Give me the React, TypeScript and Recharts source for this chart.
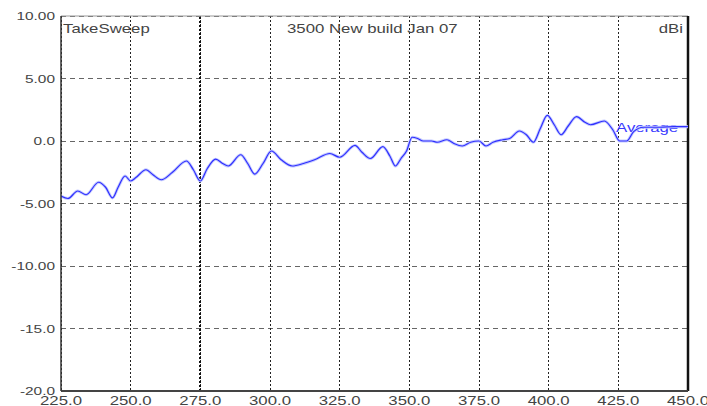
import React from 'react';
import {
  ComposedChart,
  Line,
  XAxis,
  YAxis,
  CartesianGrid,
  ReferenceLine,
  Customized,
} from 'recharts';

// Frequency (MHz) sweep points
const freq = [
  225, 227.5, 231, 234, 238.5, 241, 243.5, 245.5, 248, 250, 252, 255.5, 258, 261, 265,
  270, 272.5, 275, 277.5, 280.5, 283, 285, 289.5, 292, 294.5, 297.5, 300.5, 304, 308,
  312, 316, 321.5, 325, 330.5, 333, 336, 340.5, 343, 345, 347, 349, 351, 353, 355, 358,
  360, 363.5, 366, 369, 372, 375, 377.5, 380, 383.5, 386, 389.5, 392, 394.5, 397, 399.5,
  402, 404.5, 407, 410, 413, 415, 420, 423, 425.5, 428, 430.5, 434, 440, 445, 450,
];
// Gain (dBi) for each sweep point
const gain = [
  -4.4, -4.6, -4.0, -4.3, -3.3, -3.7, -4.55, -3.7, -2.8, -3.2, -2.9, -2.3, -2.7, -3.1, -2.5,
  -1.6, -2.3, -3.2, -2.2, -1.45, -1.8, -2.0, -1.1, -1.8, -2.65, -1.8, -0.8, -1.5, -2.0,
  -1.8, -1.5, -1.0, -1.3, -0.35, -0.9, -1.4, -0.45, -1.2, -2.0, -1.4, -0.8, 0.3, 0.2, 0.0, 0.0,
  -0.1, 0.1, -0.2, -0.4, -0.1, 0.0, -0.4, -0.1, 0.1, 0.2, 0.8, 0.5, -0.1, 1.0, 2.05,
  1.3, 0.5, 1.2, 1.95, 1.5, 1.3, 1.6, 0.9, 0.0, 0.0, 0.75, 1.1, 1.1, 1.15, 1.15,
];

const xTicks = [225, 250, 275, 300, 325, 350, 375, 400, 425, 450];
const xTickLabels = ['225.0', '250.0', '275.0', '300.0', '325.0', '350.0', '375.0', '400.0', '425.0', '450.0'];
const yTicks = [-20, -15, -10, -5, 0, 5, 10];
const yTickLabels = ['-20.0', '-15.0', '-10.00', '-5.00', '0.0', '5.00', '10.00'];

const titleLeft = 'TakeSweep';
const titleCenter = '3500 New build Jan 07';
const unitLabel = 'dBi';
const seriesLabel = 'Average';

const data = freq.map((f, i) => ({ f, g: gain[i] }));

const FONT = '"Liberation Sans", Arial, sans-serif';
const SX = 1.4;

const XTick = (props: any) => {
  const { x, y, payload } = props;
  const idx = xTicks.indexOf(payload.value);
  const label = idx >= 0 ? xTickLabels[idx] : String(payload.value);
  return (
    <g transform={`translate(${x},${y + 14}) scale(${SX},1)`}>
      <text x={0} y={0} textAnchor="middle" fontSize={12} fill="#444" fontFamily={FONT}>
        {label}
      </text>
    </g>
  );
};

const YTick = (props: any) => {
  const { x, y, payload } = props;
  const idx = yTicks.indexOf(payload.value);
  const label = idx >= 0 ? yTickLabels[idx] : String(payload.value);
  return (
    <g transform={`translate(${x - 6},${y + 4}) scale(${SX},1)`}>
      <text x={0} y={0} textAnchor="end" fontSize={11} fill="#444" fontFamily={FONT}>
        {label}
      </text>
    </g>
  );
};

const Annotations = () => (
  <g>
    <g transform={`translate(63,32.5) scale(${SX},1)`}>
      <text x={0} y={0} fontSize={12} fill="#444" fontFamily={FONT}>{titleLeft}</text>
    </g>
    <g transform={`translate(287,32.5) scale(${SX},1)`}>
      <text x={0} y={0} fontSize={12} fill="#444" fontFamily={FONT}>{titleCenter}</text>
    </g>
    <g transform={`translate(683,32.5) scale(${SX},1)`}>
      <text x={0} y={0} textAnchor="end" fontSize={12} fill="#444" fontFamily={FONT}>{unitLabel}</text>
    </g>
    <g transform={`translate(616,132) scale(${SX},1)`}>
      <text x={0} y={0} fontSize={12} fill="#3a3aff" fontFamily={FONT}>{seriesLabel}</text>
    </g>
  </g>
);

export default function App() {
  return (
    <div style={{ position: 'absolute', left: 0, top: 0, width: 707, height: 406, background: '#fff' }}>
      <ComposedChart
        width={707}
        height={406}
        data={data}
        margin={{ top: 16, right: 19, bottom: 0, left: 0 }}
      >
        <CartesianGrid
          horizontal={true}
          vertical={false}
          stroke="#666"
          strokeDasharray="5 4"
          shapeRendering="crispEdges"
        />
        <CartesianGrid
          horizontal={false}
          vertical={true}
          stroke="#222"
          strokeDasharray="2 2"
          shapeRendering="crispEdges"
        />
        <XAxis
          type="number"
          dataKey="f"
          domain={[225, 450]}
          ticks={xTicks}
          tick={<XTick />}
          tickLine={false}
          tickSize={0}
          tickMargin={0}
          height={15}
          axisLine={{ stroke: '#444', strokeWidth: 2 }}
          interval={0}
          allowDataOverflow
        />
        <YAxis
          type="number"
          domain={[-20, 10]}
          ticks={yTicks}
          tick={<YTick />}
          tickLine={false}
          tickSize={0}
          tickMargin={0}
          width={61}
          axisLine={{ stroke: '#333', strokeWidth: 1.5 }}
          interval={0}
          allowDataOverflow
        />
        <ReferenceLine x={275} stroke="#111" strokeWidth={2} strokeDasharray="2 2" shapeRendering="crispEdges" />
        <ReferenceLine y={10} stroke="#999" strokeWidth={1} />
        <ReferenceLine x={450} stroke="#111" strokeWidth={2.5} />
        <Line
          type="monotone"
          dataKey="g"
          stroke="#c4caff"
          strokeWidth={3}
          dot={false}
          activeDot={false}
          isAnimationActive={false}
        />
        <Line
          type="monotone"
          dataKey="g"
          stroke="#2f2fff"
          strokeWidth={1.2}
          dot={false}
          activeDot={false}
          isAnimationActive={false}
        />
        <Customized component={<Annotations />} />
      </ComposedChart>
    </div>
  );
}
